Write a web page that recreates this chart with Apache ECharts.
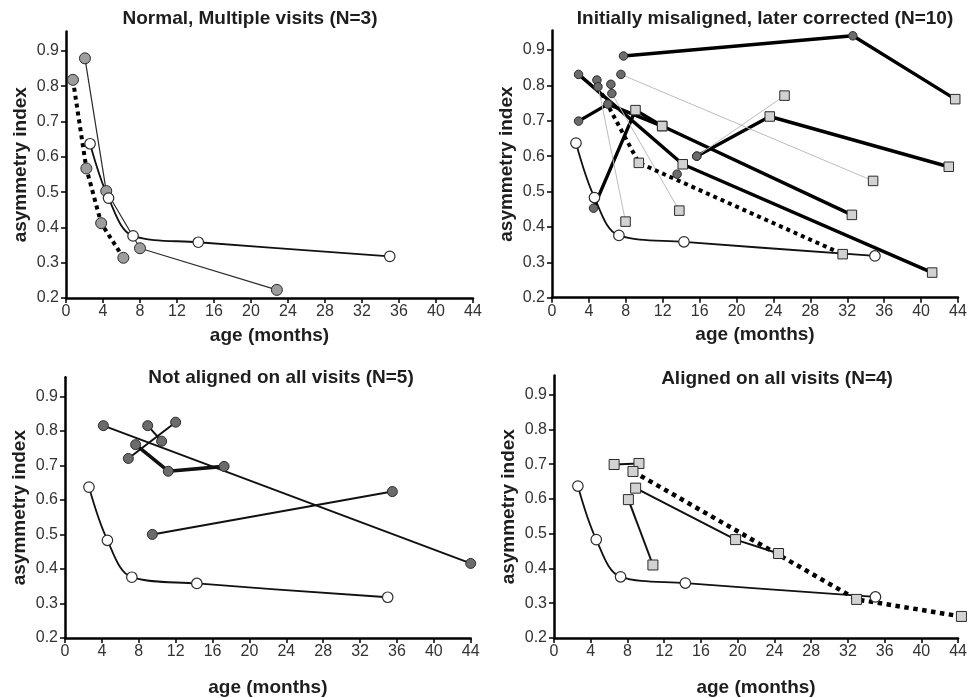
<!DOCTYPE html>
<html><head><meta charset="utf-8">
<script src="https://cdn.jsdelivr.net/npm/echarts@6/dist/echarts.min.js"></script>
<style>html,body{margin:0;padding:0;background:#fff}#c{width:970px;height:698px}</style>
</head><body><div id="c"></div>
<script>
// ---------------- DATA ----------------
const panelTitles = [
  'Normal, Multiple visits (N=3)',
  'Initially misaligned, later corrected (N=10)',
  'Not aligned on all visits (N=5)',
  'Aligned on all visits (N=4)'
];
const xAxisName = 'age (months)';
const yAxisName = 'asymmetry index';
const yTickLabels = [0.2, 0.3, 0.4, 0.5, 0.6, 0.7, 0.8, 0.9];

// normal reference curve (white circles), shown in every panel
const normalAge = [2.6, 4.6, 7.25, 14.3, 35.0];
const normalIndex = [0.637, 0.483, 0.376, 0.358, 0.318];

// status: N = normal subject, M = misaligned, A = aligned
// Panel 1
const p1Age = [[0.75, 2.2, 3.8, 6.2], [2.05, 4.35, 8.0, 22.8]];
const p1Index = [[0.818, 0.567, 0.412, 0.314], [0.879, 0.503, 0.341, 0.223]];
const p1Status = [['N', 'N', 'N', 'N'], ['N', 'N', 'N', 'N']];

// Panel 2
const p2Age = [
  [7.75, 32.6, 43.7],
  [2.88, 14.17, 41.2],
  [2.88, 6.06, 11.94],
  [4.5, 9.05, 11.94, 32.5],
  [15.69, 23.6, 43.0],
  [7.47, 34.8],
  [4.87, 7.97],
  [6.38, 6.49, 13.8],
  [15.69, 25.2],
  [4.98, 9.41, 31.5],
  [13.56]
];
const p2Index = [
  [0.883, 0.94, 0.761],
  [0.831, 0.577, 0.271],
  [0.699, 0.747, 0.685],
  [0.453, 0.73, 0.685, 0.434],
  [0.600, 0.712, 0.570],
  [0.831, 0.530],
  [0.815, 0.415],
  [0.803, 0.777, 0.446],
  [0.600, 0.771],
  [0.796, 0.581, 0.323],
  [0.549]
];
const p2Status = [
  ['M', 'M', 'A'],
  ['M', 'A', 'A'],
  ['M', 'M', 'A'],
  ['M', 'A', 'A', 'A'],
  ['M', 'A', 'A'],
  ['M', 'A'],
  ['M', 'A'],
  ['M', 'M', 'A'],
  ['M', 'A'],
  ['M', 'A', 'A'],
  ['M']
];

// Panel 3
const p3Age = [[4.16, 44.0], [9.47, 35.5], [8.97, 10.48], [6.87, 12.0], [7.66, 11.2, 17.25]];
const p3Index = [[0.815, 0.416], [0.50, 0.624], [0.815, 0.770], [0.720, 0.825], [0.760, 0.683, 0.697]];
const p3Status = [['M', 'M'], ['M', 'M'], ['M', 'M'], ['M', 'M'], ['M', 'M', 'M']];

// Panel 4
const p4Age = [[6.55, 9.25], [8.6, 32.95, 44.36], [8.89, 19.77, 24.45], [8.1, 10.77]];
const p4Index = [[0.699, 0.702], [0.679, 0.311, 0.262], [0.631, 0.483, 0.443], [0.598, 0.410]];
const p4Status = [['A', 'A'], ['A', 'A', 'A'], ['A', 'A', 'A'], ['A', 'A']];

// ---------------- STYLES / LAYOUT ----------------
const grids = [
  {left: 66, top: 31.5, width: 407, height: 266.5},
  {left: 552, top: 30.5, width: 406, height: 267.2},
  {left: 65, top: 377.3, width: 405.7, height: 266.4},
  {left: 554, top: 375.5, width: 407.4, height: 267.2}
];
const titlePos = [[250, 9], [765, 9], [281, 368], [777, 369]];
const xNameGap = [28, 28, 40, 40];
const lineStyles = {
  thin1: {color: '#2a2a2a', width: 1.2, type: 'solid'},
  dotted: {color: '#000', width: 4, type: 'dotted'},
  thick: {color: '#000', width: 3.4, type: 'solid'},
  grey: {color: '#bdbdbd', width: 1, type: 'solid'},
  med: {color: '#111', width: 2, type: 'solid'},
  heavy: {color: '#111', width: 3.6, type: 'solid'},
  dotted4: {color: '#000', width: 4.5, type: 'dotted'}
};
const p1Styles = ['dotted', 'thin1'];
const p2Styles = ['thick', 'thick', 'thick', 'thick', 'thick', 'grey', 'grey', 'grey', 'grey', 'dotted', 'thick'];
const p3Styles = ['med', 'med', 'med', 'med', 'heavy'];
const p4Styles = ['med', 'dotted4', 'med', 'med'];
const markerStyle = {
  N: {symbol: 'circle', color: '#9d9d9d', size: 11},
  M: {symbol: 'circle', color: '#6b6b6b', size: 9},
  A: {symbol: 'rect', color: '#d2d2d2', size: 10}
};
const markerSizeOverride = [null, {M: 8.5, A: 9.5}, {M: 10}, {A: 10}];

const FONT = '"Liberation Sans", Arial, Helvetica, sans-serif';

const option = {
  animation: false,
  backgroundColor: '#fff',
  title: panelTitles.map((t, i) => ({
    text: t, left: titlePos[i][0], top: titlePos[i][1], textAlign: 'center', padding: 0,
    textStyle: {fontSize: 19, fontWeight: 'bold', color: '#1e1e1e', fontFamily: FONT}
  })),
  grid: grids.map(g => Object.assign({containLabel: false}, g)),
  xAxis: grids.map((g, i) => ({
    type: 'value', gridIndex: i, min: 0, max: 44, interval: 4,
    name: xAxisName, nameLocation: 'middle', nameGap: xNameGap[i],
    nameTextStyle: {fontSize: 19, fontWeight: 'bold', color: '#1e1e1e', fontFamily: FONT},
    axisLine: {show: true, onZero: false, lineStyle: {color: '#000', width: 2.5}},
    axisTick: {show: true, inside: false, length: 5, lineStyle: {color: '#000', width: 1.5}},
    axisLabel: {fontSize: 16, color: '#333', margin: 6, fontFamily: FONT},
    splitLine: {show: false}
  })),
  yAxis: grids.map((g, i) => ({
    type: 'value', gridIndex: i, min: 0.2, max: 0.955, interval: 0.1,
    name: yAxisName, nameLocation: 'middle', nameGap: 36, nameRotate: 90,
    nameTextStyle: {fontSize: 19, fontWeight: 'bold', color: '#1e1e1e', fontFamily: FONT},
    axisLine: {show: true, onZero: false, lineStyle: {color: '#000', width: 2.5}},
    axisTick: {show: true, inside: false, length: 5, lineStyle: {color: '#000', width: 1.5},
               customValues: yTickLabels},
    axisLabel: {fontSize: 16, color: '#333', margin: 7, fontFamily: FONT,
                customValues: yTickLabels,
                formatter: v => (v > 0.91 ? '' : v.toFixed(1))},
    splitLine: {show: false}
  })),
  series: []
};

function addPanel(pi, ages, idxs, stats, styles) {
  ages.forEach((a, k) => {
    const pts = a.map((x, j) => [x, idxs[k][j]]);
    if (pts.length > 1) {
      option.series.push({
        type: 'line', xAxisIndex: pi, yAxisIndex: pi, data: pts, showSymbol: false,
        symbol: 'none', clip: false, z: 2, silent: true,
        lineStyle: lineStyles[styles[k]]
      });
    }
    option.series.push({
      type: 'scatter', xAxisIndex: pi, yAxisIndex: pi, clip: false, z: 4, silent: true,
      data: pts.map((p, j) => {
        const st = markerStyle[stats[k][j]];
        const ov = markerSizeOverride[pi];
        const size = (ov && ov[stats[k][j]]) || st.size;
        return {value: p, symbol: st.symbol, symbolSize: size,
                itemStyle: {color: st.color, borderColor: '#2b2b2b', borderWidth: 1, opacity: 1}};
      })
    });
  });
}

function addNormal(pi) {
  const pts = normalAge.map((x, j) => [x, normalIndex[j]]);
  option.series.push({
    type: 'line', xAxisIndex: pi, yAxisIndex: pi, data: pts, smooth: 0.35,
    showSymbol: false, symbol: 'none', z: 2, silent: true,
    lineStyle: {color: '#111', width: 1.8}
  });
  option.series.push({
    type: 'scatter', xAxisIndex: pi, yAxisIndex: pi, z: 5, silent: true,
    data: pts, symbol: 'circle', symbolSize: 10.5,
    itemStyle: {color: '#fff', borderColor: '#2b2b2b', borderWidth: 1.2, opacity: 1}
  });
}

addNormal(0); addPanel(0, p1Age, p1Index, p1Status, p1Styles);
addNormal(1); addPanel(1, p2Age, p2Index, p2Status, p2Styles);
addNormal(2); addPanel(2, p3Age, p3Index, p3Status, p3Styles);
addNormal(3); addPanel(3, p4Age, p4Index, p4Status, p4Styles);

const chart = echarts.init(document.getElementById('c'), null, {renderer: 'canvas'});
chart.setOption(option);
</script>
</body></html>
